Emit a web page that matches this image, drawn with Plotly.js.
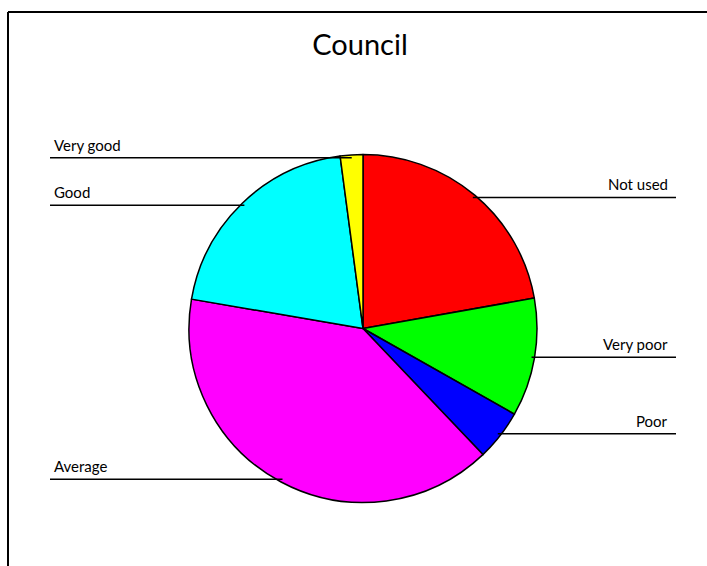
<!DOCTYPE html>
<html>
<head>
<meta charset="utf-8">
<script src="https://cdn.plot.ly/plotly-3.0.1.min.js"></script>
<style>html,body{margin:0;padding:0;background:#fff;}#chart{width:707px;height:566px;}</style>
</head>
<body>
<div id="chart"></div>
<script>
// Data
const categories = ["Not used", "Very poor", "Poor", "Average", "Good", "Very good"];
const values = [22.2, 11.0, 4.7, 39.8, 20.2, 2.1];
const colors = ["#ff0000", "#00ff00", "#0000ff", "#ff00ff", "#00ffff", "#ffff00"];

// Layout constants
const W = 707, H = 566;
const cx = 363, cy = 328.5, R = 174, RL = 171;
const leftX = 50, rightX = 676;
const FONT = "Lato, 'DejaVu Sans', sans-serif";

const total = values.reduce((a, b) => a + b, 0);
const shapes = [];
const annotations = [];
let cum = 0;
values.forEach((v, i) => {
  const th = 2 * Math.PI * (cum + v / 2) / total;
  cum += v;
  const px = cx + RL * Math.sin(th);
  const py = cy - RL * Math.cos(th);
  const right = Math.sin(th) > 0;
  const x0 = right ? px : leftX;
  const x1 = right ? rightX : px;
  shapes.push({type: "line", xref: "paper", yref: "paper",
    x0: x0 / W, x1: x1 / W, y0: 1 - py / H, y1: 1 - py / H,
    line: {color: "#000", width: 1.5}});
  annotations.push({xref: "paper", yref: "paper",
    x: right ? (rightX - 6) / W : (leftX + 2) / W,
    y: 1 - (py - 2) / H,
    xanchor: right ? "right" : "left", yanchor: "bottom",
    text: categories[i], showarrow: false,
    font: {family: FONT, size: 15, color: "#000"}});
});
// frame (top and left edges)
shapes.push({type: "line", xref: "paper", yref: "paper", x0: 8 / W, x1: 1, y0: 1 - 12 / H, y1: 1 - 12 / H, line: {color: "#000", width: 2}});
shapes.push({type: "line", xref: "paper", yref: "paper", x0: 8 / W, x1: 8 / W, y0: 1 - 12 / H, y1: 0, line: {color: "#000", width: 2}});

const trace = {
  type: "pie",
  labels: categories,
  values: values,
  sort: false,
  direction: "clockwise",
  rotation: 0,
  textinfo: "none",
  hoverinfo: "label+value",
  marker: {colors: colors, line: {color: "#000", width: 1.5}},
  domain: {x: [(cx - R) / W, (cx + R) / W], y: [(H - cy - R) / H, (H - cy + R) / H]}
};

const layout = {
  width: W, height: H,
  margin: {l: 0, r: 0, t: 0, b: 0},
  showlegend: false,
  paper_bgcolor: "#fff",
  title: {text: "Council", x: 360 / W, xanchor: "center", y: 1 - 45 / H, yanchor: "middle",
    font: {family: FONT, size: 29, color: "#000"}},
  shapes: shapes,
  annotations: annotations
};

Plotly.newPlot("chart", [trace], layout, {displayModeBar: false, staticPlot: true});
</script>
</body>
</html>
